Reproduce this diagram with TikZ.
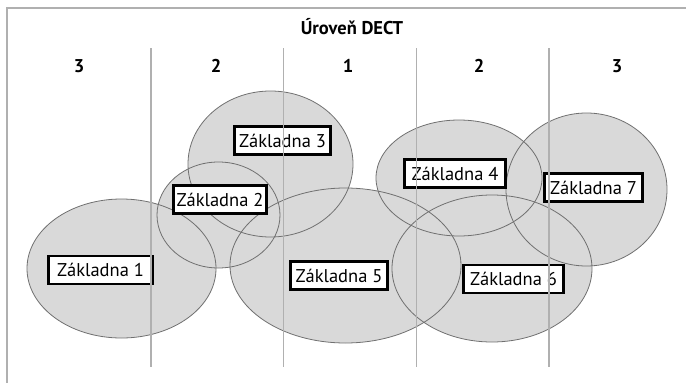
\documentclass[tikz,border=0pt]{standalone}
\usepackage{fontspec}
\setmainfont{PT Sans}
\usetikzlibrary{shapes.geometric}

\definecolor{zonegray}{HTML}{D9D9D9}
\definecolor{rimgray}{HTML}{707070}
\definecolor{linegray}{HTML}{B0B0B0}

\tikzset{
  zone/.style={ellipse, fill=zonegray, inner sep=0pt},
  rim/.style={ellipse, draw=rimgray, line width=0.8pt, inner sep=0pt},
  base/.style={draw, fill=white, line width=2.9pt, inner sep=0pt,
    minimum height=28pt, font=\fontsize{18.5}{21}\selectfont},
  level/.style={font=\fontsize{18.5}{21}\selectfont\bfseries},
  divider/.style={linegray, line width=1.4pt}
}

\begin{document}
\begin{tikzpicture}[x=1pt, y=-1pt]
    \useasboundingbox (0,0) rectangle (686,383);

    % Rahmen
    \draw[divider] (7,383) -- (7,8) -- (686,8);

    % Ueberschrift
    \node[level] (title) at (352,27) {Úroveň DECT};
    \node[level] (l1) at (79,66) {3};
    \node[level] (l2) at (216,66) {2};
    \node[level] (l3) at (348,66) {1};
    \node[level] (l4) at (479,66) {2};
    \node[level] (l5) at (617,66) {3};

    % Flaechen
    \node[zone, minimum width=189, minimum height=139] (z1) at (121.5,268.5) {};
    \node[zone, minimum width=123, minimum height=106] (z2) at (218.5,215) {};
    \node[zone, minimum width=165, minimum height=146] (z3) at (270.5,164) {};
    \node[zone, minimum width=166, minimum height=116] (z4) at (459,178) {};
    \node[zone, minimum width=231, minimum height=155] (z5) at (345.5,265.5) {};
    \node[zone, minimum width=200, minimum height=147] (z6) at (492,268.5) {};
    \node[zone, minimum width=161, minimum height=153] (z7) at (586.5,189.5) {};

    % Umrisse
    \node[rim, minimum width=189, minimum height=139] at (z1) {};
    \node[rim, minimum width=123, minimum height=106] at (z2) {};
    \node[rim, minimum width=165, minimum height=146] at (z3) {};
    \node[rim, minimum width=166, minimum height=116] at (z4) {};
    \node[rim, minimum width=231, minimum height=155] at (z5) {};
    \node[rim, minimum width=200, minimum height=147] at (z6) {};
    \node[rim, minimum width=161, minimum height=153] at (z7) {};

    % Basisstationen
    \node[base, minimum width=104] (b1) at (100.5,270) {Základna 1};
    \node[base, minimum width=93] (b2) at (220,199.5) {Základna 2};
    \node[base, minimum width=96] (b3) at (282.5,140.5) {Základna 3};
    \node[base, minimum width=101] (b4) at (455,173.5) {Základna 4};
    \node[base, minimum width=97] (b5) at (339,275.5) {Základna 5};
    \node[base, minimum width=100] (b6) at (513.5,279) {Základna 6};
    \node[base, minimum width=98] (b7) at (593.5,187.5) {Základna 7};

    % Trennlinien
    \draw[divider] (151,48) -- (151,367);
    \draw[divider] (283.5,48) -- (283.5,367);
    \draw[divider] (416.5,48) -- (416.5,367);
    \draw[divider] (549,48) -- (549,367);

  \end{tikzpicture}
\end{document}
